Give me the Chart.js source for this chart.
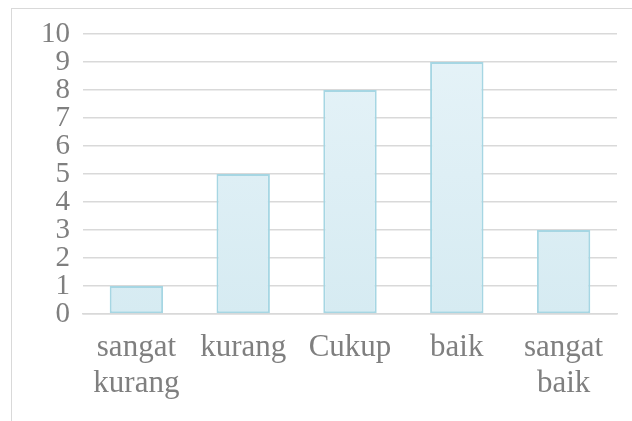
<!DOCTYPE html>
<html>
<head>
<meta charset="utf-8">
<script src="https://cdn.jsdelivr.net/npm/chart.js@4"></script>
<style>
  html, body { margin: 0; padding: 0; background: #fff; overflow: hidden; }
  #bingkai { position: absolute; left: 11px; top: 8px; width: 700px; height: 500px; border: 1px solid #d9d9d9; }
  #wadah { position: absolute; left: 0; top: 0; width: 632px; height: 421px; }
</style>
</head>
<body>
<div id="bingkai"></div>
<div id="wadah"><canvas id="grafik" width="632" height="421"></canvas></div>
<script>
// data grafik
const kategori = [["sangat", "kurang"], "kurang", "Cukup", "baik", ["sangat", "baik"]];
const nilai = [1, 5, 8, 9, 3];
const tickY = [0, 1, 2, 3, 4, 5, 6, 7, 8, 9, 10];

const warnaTeks = "#7f7f7f";
const keluargaHuruf = "'Liberation Serif', 'Times New Roman', serif";

// gradasi isi batang, dari atas ke bawah
const isiGradasi = function (ctx) {
    const area = ctx.chart.chartArea;
    if (!area) return "#dfeff5";
    const g = ctx.chart.ctx.createLinearGradient(0, area.top, 0, area.bottom);
    g.addColorStop(0, "#e6f3f8");
    g.addColorStop(1, "#d6ebf2");
    return g;
};

new Chart(document.getElementById("grafik"), {
    type: "bar",
    data: {
        labels: kategori,
        datasets: [{
            data: nilai,
            backgroundColor: isiGradasi,
            borderColor: "#a6d6e3",
            borderWidth: 2,
            borderSkipped: false,
            categoryPercentage: 1,
            barPercentage: 0.5,
        }],
    },
    options: {
        responsive: false,
        animation: false,
        layout: { padding: { left: 0, right: 15, top: 34, bottom: 0 } },
        plugins: { legend: { display: false }, tooltip: { enabled: false } },
        scales: {
            x: {
                grid: { display: false, drawTicks: false },
                border: { display: true, color: "#d9d9d9", width: 1.5 },
                ticks: {
                    color: warnaTeks,
                    font: { family: keluargaHuruf, size: 31, lineHeight: 1.15 },
                    padding: 16,
                    maxRotation: 0,
                    autoSkip: false,
                },
                afterFit: function (s) { s.height = 107; },
            },
            y: {
                min: 0,
                max: 10,
                afterBuildTicks: function (s) { s.ticks = tickY.map(v => ({ value: v })); },
                grid: { color: "#d9d9d9", lineWidth: 1.5, drawTicks: false },
                border: { display: false },
                ticks: {
                    color: warnaTeks,
                    font: { family: keluargaHuruf, size: 29, lineHeight: 1 },
                    padding: 13,
                    autoSkip: false,
                },
                afterFit: function (s) { s.width = 83; },
            },
        },
    },
});
</script>
</body>
</html>
